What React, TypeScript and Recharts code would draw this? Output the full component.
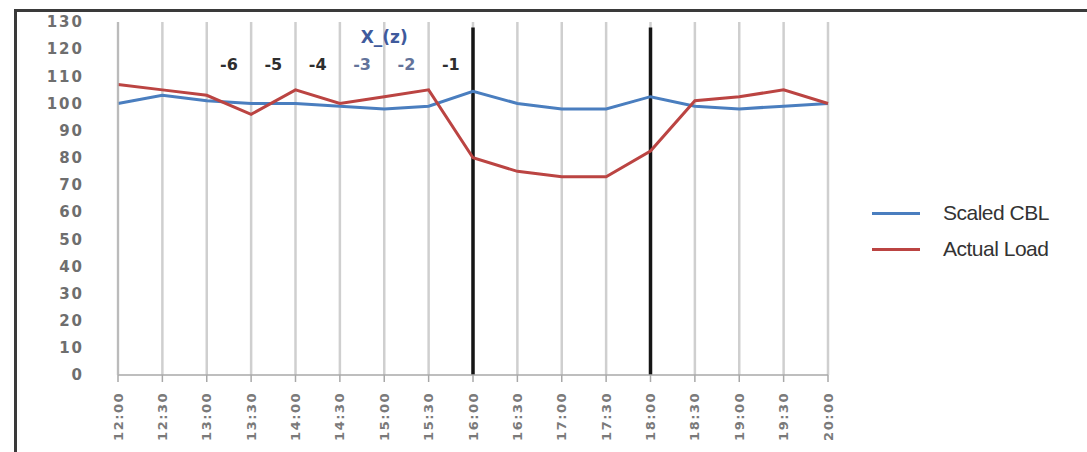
import { LineChart, Line, XAxis, YAxis, CartesianGrid, ReferenceLine, ReferenceArea, Legend } from 'recharts';

const times = ['12:00', '12:30', '13:00', '13:30', '14:00', '14:30', '15:00', '15:30', '16:00', '16:30', '17:00', '17:30', '18:00', '18:30', '19:00', '19:30', '20:00'];
const scaledCbl = [100, 103, 101, 100, 100, 99, 98, 99, 104.5, 100, 98, 98, 102.5, 99, 98, 99, 100];
const actualLoad = [107, 105, 103, 96, 105, 100, 102.5, 105, 80, 75, 73, 73, 82.5, 101, 102.5, 105, 100];
const yTicks = [0, 10, 20, 30, 40, 50, 60, 70, 80, 90, 100, 110, 120, 130];

// event window markers
const eventStart = '16:00';
const eventEnd = '18:00';

// "-6 .. -1" labels sit between consecutive time slots before the event
const offsetLabels = [
  { from: '13:00', to: '13:30', text: '-6', light: false },
  { from: '13:30', to: '14:00', text: '-5', light: false },
  { from: '14:00', to: '14:30', text: '-4', light: false },
  { from: '14:30', to: '15:00', text: '-3', light: true },
  { from: '15:00', to: '15:30', text: '-2', light: true },
  { from: '15:30', to: '16:00', text: '-1', light: false },
];

const BLUE = '#4a7ebf';
const RED = '#bb4442';

const data = times.map((t, i) => ({ time: t, cbl: scaledCbl[i], load: actualLoad[i] }));

function XTick({ x, y, payload }: any) {
  return (
    <g transform={`translate(${x},${y})`}>
      <text
        transform="rotate(-90)"
        x={-10}
        dy="0.35em"
        textAnchor="end"
        fontFamily="DejaVu Sans"
        fontSize={13}
        fontWeight="bold"
        letterSpacing={1.5}
        fill="#7a7a7a"
      >
        {payload.value}
      </text>
    </g>
  );
}

function ChartLegend() {
  const items = [
    { name: 'Scaled CBL', color: BLUE },
    { name: 'Actual Load', color: RED },
  ];
  return (
    <div>
      {items.map((it) => (
        <div key={it.name} style={{ display: 'flex', alignItems: 'center', height: 36 }}>
          <span style={{ display: 'inline-block', width: 48, height: 3, background: it.color }} />
          <span
            style={{
              marginLeft: 23,
              fontFamily: '"Liberation Sans", Arial, sans-serif',
              fontSize: 21,
              color: '#333',
              letterSpacing: -0.5,
              whiteSpace: 'nowrap',
            }}
          >
            {it.name}
          </span>
        </div>
      ))}
    </div>
  );
}

export default function App() {
  return (
    <div style={{ position: 'absolute', left: 0, top: 0, width: 1087, height: 452, background: '#fff', overflow: 'hidden' }}>
      <div
        style={{
          position: 'absolute',
          left: 14,
          top: 9,
          right: 0,
          bottom: 0,
          borderLeft: '3px solid #3a3a3a',
          borderTop: '3px solid #3a3a3a',
        }}
      />
      <div style={{ position: 'absolute', left: 0, top: 0 }}>
        <LineChart width={1087} height={452} data={data} margin={{ top: 22, right: 259, bottom: 0, left: 0 }}>
          <CartesianGrid horizontal={false} stroke="#cfcfcf" strokeWidth={2.5} />
          <XAxis
            dataKey="time"
            height={77}
            interval={0}
            stroke="#a8a8a8"
            strokeWidth={1.5}
            tickSize={7}
            tickMargin={0}
            tick={<XTick />}
          />
          <YAxis
            width={118}
            domain={[0, 130]}
            ticks={yTicks}
            interval={0}
            stroke="#b5b5b5"
            strokeWidth={1.5}
            tickLine={false}
            tickSize={0}
            tickMargin={34}
            tick={{ fill: '#6e6e6e', fontSize: 15, fontWeight: 'bold', fontFamily: 'DejaVu Sans', letterSpacing: 2 }}
          />
          {offsetLabels.map((l) => (
            <ReferenceArea
              key={l.text}
              x1={l.from}
              x2={l.to}
              fill="none"
              fillOpacity={0}
              stroke="none"
              label={{
                value: l.text,
                position: 'insideTop',
                offset: 37,
                fill: l.light ? '#63739a' : '#2e2e2e',
                fontSize: 16,
                fontWeight: 'bold',
                fontFamily: 'DejaVu Sans',
              }}
            />
          ))}
          <ReferenceArea
            x1="14:30"
            x2="15:30"
            fill="none"
            fillOpacity={0}
            stroke="none"
            label={{
              value: 'X_(z)',
              position: 'insideTop',
              offset: 9,
              fill: '#3f5a9c',
              fontSize: 17,
              fontWeight: 'bold',
              fontFamily: 'DejaVu Sans',
            }}
          />
          <ReferenceLine
            segment={[{ x: eventStart, y: 0 }, { x: eventStart, y: 128 }]}
            stroke="#151515"
            strokeWidth={3.5}
          />
          <ReferenceLine
            segment={[{ x: eventEnd, y: 0 }, { x: eventEnd, y: 128 }]}
            stroke="#151515"
            strokeWidth={3.5}
          />
          <Line type="linear" dataKey="cbl" name="Scaled CBL" stroke={BLUE} strokeWidth={3} dot={false} isAnimationActive={false} />
          <Line type="linear" dataKey="load" name="Actual Load" stroke={RED} strokeWidth={3} dot={false} isAnimationActive={false} />
          <Legend
            layout="vertical"
            align="center"
            verticalAlign="middle"
            content={<ChartLegend />}
            wrapperStyle={{ left: 872, top: 195, width: 215 }}
          />
        </LineChart>
      </div>
    </div>
  );
}
